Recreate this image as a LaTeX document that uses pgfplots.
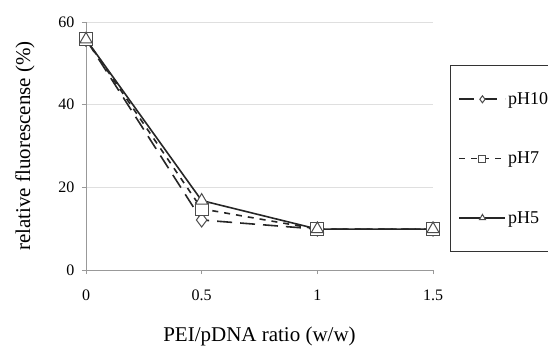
\documentclass[border=0pt]{standalone}
\usepackage{pgfplots}
\pgfplotsset{compat=1.18}
\usepackage{fontspec}
\setmainfont{Liberation Serif}
\begin{document}
\begin{tikzpicture}
\begin{axis}[
  at={(86bp,77bp)}, anchor=south west,
  scale only axis, width=347bp, height=248bp,
  xmin=0, xmax=1.5, ymin=0, ymax=60,
  xtick={0,0.5,1,1.5}, ytick={0,20,40,60},
  axis x line*=bottom, axis y line*=left,
  axis line style={draw=gray!80, line width=1bp},
  tick style={draw=gray!80, line width=1bp},
  major tick length=4bp,
  tick align=outside,
  ymajorgrids, grid style={draw=gray!25, line width=0.8bp},
  /pgf/number format/assume math mode=true,
  tick label style={font=\fontsize{16bp}{19bp}\selectfont},
  xticklabel style={yshift=-12bp},
  yticklabel style={xshift=-4bp},
  xlabel={PEI/pDNA ratio (w/w)},
  ylabel={relative fluorescense (\%)},
  label style={font=\fontsize{21bp}{25bp}\selectfont},
  xlabel style={at={(axis description cs:0.5,0)}, anchor=center, yshift=-66bp},
  ylabel style={at={(axis description cs:0,0.5)}, anchor=center, yshift=61bp},
  legend style={at={(axis description cs:1.049,0.827)}, anchor=north west,
    draw=black!80, line width=1.3bp, font=\fontsize{18bp}{21bp}\selectfont,
    inner xsep=8bp, inner ysep=25bp, row sep=42bp, text width=120bp},
  legend cell align=left,
  legend image code/.code={\draw[line width=1.6bp, mark repeat=2,mark phase=2,mark size=3.5bp] plot coordinates {(0bp,0bp) (23bp,0bp) (46bp,0bp)};},
]
\addplot[black!85, line width=1.6bp, dash pattern=on 15bp off 8bp,
  mark=diamond*, mark size=7bp, mark options={solid, fill=white, draw=black!70, line width=1bp}]
  coordinates {(0,55.8) (0.5,12.1) (1,9.9) (1.5,9.9)};
\addlegendentry{pH10}
\addplot[black!85, line width=1.6bp, dash pattern=on 6bp off 6bp,
  mark=square*, mark size=6.5bp, mark options={solid, fill=white, draw=black!70, line width=1bp}]
  coordinates {(0,55.8) (0.5,14.8) (1,9.9) (1.5,9.9)};
\addlegendentry{pH7}
\addplot[black!85, line width=1.6bp, solid,
  mark=triangle*, mark size=7bp, mark options={solid, fill=white, draw=black!70, line width=1bp}]
  coordinates {(0,55.8) (0.5,16.8) (1,9.9) (1.5,9.9)};
\addlegendentry{pH5}
\end{axis}
\pgfresetboundingbox
\path (0,0) rectangle (548bp,347bp);
\end{tikzpicture}
\end{document}
